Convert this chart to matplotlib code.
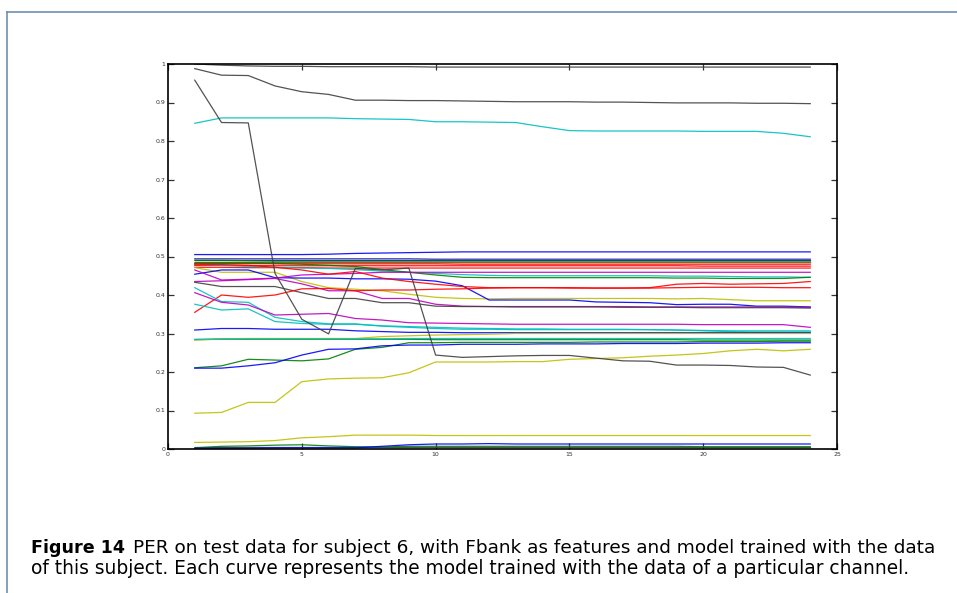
import matplotlib
matplotlib.use('Agg')
import matplotlib.pyplot as plt
from matplotlib.lines import Line2D

# ==================== data ====================
epochs = list(range(1, 25))

k_top = [1.000, 0.997, 0.995, 0.994, 0.994, 0.993, 0.993, 0.993, 0.993, 0.992, 0.992, 0.992,
         0.992, 0.992, 0.992, 0.992, 0.992, 0.992, 0.992, 0.992, 0.992, 0.992, 0.992, 0.992]
k_high = [0.988, 0.971, 0.970, 0.943, 0.928, 0.921, 0.906, 0.906, 0.905, 0.905, 0.904, 0.903,
          0.902, 0.902, 0.902, 0.901, 0.901, 0.900, 0.899, 0.899, 0.899, 0.898, 0.898, 0.897]
k_drop = [0.958, 0.848, 0.847, 0.456, 0.337, 0.299, 0.469, 0.465, 0.470, 0.244, 0.238, 0.240,
          0.242, 0.243, 0.243, 0.236, 0.229, 0.228, 0.218, 0.218, 0.217, 0.213, 0.212, 0.192]
c_high = [0.846, 0.860, 0.860, 0.860, 0.860, 0.860, 0.858, 0.857, 0.856, 0.850, 0.850, 0.849,
          0.848, 0.837, 0.827, 0.826, 0.826, 0.826, 0.826, 0.825, 0.825, 0.825, 0.820, 0.811]

b_top = [0.505, 0.505, 0.505, 0.505, 0.505, 0.506, 0.508, 0.509, 0.510, 0.511, 0.512, 0.512,
         0.512, 0.512, 0.512, 0.512, 0.512, 0.512, 0.512, 0.512, 0.512, 0.512, 0.512, 0.512]
b_flat1 = [0.494, 0.494, 0.494, 0.494, 0.494, 0.494, 0.494, 0.494, 0.494, 0.493, 0.493, 0.493,
           0.493, 0.493, 0.493, 0.493, 0.493, 0.493, 0.493, 0.493, 0.493, 0.493, 0.493, 0.493]
b_flat2 = [0.491, 0.491, 0.491, 0.491, 0.491, 0.491, 0.491, 0.491, 0.491, 0.491, 0.491, 0.491,
           0.491, 0.491, 0.491, 0.491, 0.491, 0.491, 0.491, 0.491, 0.491, 0.491, 0.491, 0.491]
g_flat = [0.490, 0.490, 0.489, 0.488, 0.488, 0.488, 0.488, 0.488, 0.488, 0.488, 0.488, 0.488,
          0.488, 0.488, 0.488, 0.488, 0.488, 0.488, 0.488, 0.488, 0.488, 0.488, 0.488, 0.488]
y_flat = [0.487, 0.487, 0.487, 0.487, 0.487, 0.487, 0.487, 0.487, 0.487, 0.487, 0.487, 0.487,
          0.487, 0.487, 0.487, 0.487, 0.487, 0.487, 0.487, 0.487, 0.487, 0.487, 0.487, 0.487]
k_flat = [0.485, 0.485, 0.485, 0.485, 0.485, 0.485, 0.485, 0.485, 0.485, 0.485, 0.485, 0.485,
          0.485, 0.485, 0.485, 0.485, 0.485, 0.485, 0.485, 0.485, 0.485, 0.485, 0.485, 0.485]
r_a = [0.482, 0.482, 0.482, 0.481, 0.481, 0.481, 0.481, 0.481, 0.481, 0.481, 0.480, 0.480,
       0.480, 0.480, 0.480, 0.480, 0.480, 0.480, 0.480, 0.480, 0.480, 0.480, 0.480, 0.480]
r_b = [0.477, 0.477, 0.477, 0.476, 0.476, 0.476, 0.476, 0.476, 0.476, 0.476, 0.476, 0.476,
       0.476, 0.476, 0.476, 0.476, 0.476, 0.476, 0.476, 0.475, 0.475, 0.475, 0.475, 0.475]
r_c = [0.472, 0.472, 0.471, 0.471, 0.471, 0.470, 0.470, 0.470, 0.470, 0.470, 0.470, 0.470,
       0.470, 0.470, 0.470, 0.470, 0.470, 0.470, 0.470, 0.470, 0.470, 0.470, 0.470, 0.470]
c_mid = [0.480, 0.477, 0.474, 0.472, 0.470, 0.469, 0.466, 0.462, 0.459, 0.456, 0.453, 0.451,
         0.450, 0.450, 0.450, 0.450, 0.450, 0.450, 0.449, 0.449, 0.448, 0.447, 0.447, 0.446]
g_mid = [0.483, 0.483, 0.483, 0.482, 0.480, 0.477, 0.474, 0.466, 0.459, 0.452, 0.446, 0.445,
         0.445, 0.445, 0.445, 0.445, 0.445, 0.445, 0.444, 0.444, 0.443, 0.443, 0.443, 0.446]
y_mid = [0.471, 0.459, 0.459, 0.459, 0.435, 0.419, 0.415, 0.411, 0.402, 0.394, 0.391, 0.390,
         0.391, 0.391, 0.391, 0.391, 0.391, 0.391, 0.390, 0.391, 0.388, 0.385, 0.385, 0.385]
b_mid = [0.454, 0.465, 0.465, 0.445, 0.444, 0.444, 0.442, 0.442, 0.441, 0.436, 0.424, 0.387,
         0.387, 0.387, 0.387, 0.382, 0.381, 0.380, 0.375, 0.376, 0.376, 0.371, 0.371, 0.369]
m_a = [0.465, 0.439, 0.441, 0.444, 0.452, 0.454, 0.456, 0.459, 0.459, 0.459, 0.459, 0.459,
       0.459, 0.459, 0.459, 0.459, 0.459, 0.459, 0.459, 0.459, 0.459, 0.459, 0.459, 0.459]
m_b = [0.435, 0.437, 0.440, 0.443, 0.429, 0.411, 0.411, 0.391, 0.391, 0.376, 0.371, 0.370,
       0.370, 0.370, 0.370, 0.370, 0.370, 0.369, 0.369, 0.369, 0.369, 0.369, 0.369, 0.368]
k_low = [0.433, 0.422, 0.422, 0.422, 0.406, 0.391, 0.391, 0.380, 0.380, 0.371, 0.370, 0.370,
         0.369, 0.369, 0.369, 0.369, 0.368, 0.368, 0.368, 0.367, 0.367, 0.367, 0.367, 0.366]
r_drop = [0.480, 0.479, 0.477, 0.472, 0.465, 0.454, 0.461, 0.444, 0.435, 0.428, 0.422, 0.419,
          0.419, 0.419, 0.419, 0.418, 0.418, 0.418, 0.419, 0.420, 0.420, 0.420, 0.419, 0.419]
r_rise = [0.355, 0.400, 0.394, 0.400, 0.416, 0.417, 0.411, 0.413, 0.413, 0.415, 0.416, 0.418,
          0.419, 0.419, 0.418, 0.418, 0.418, 0.419, 0.428, 0.430, 0.428, 0.429, 0.430, 0.435]
c_a = [0.419, 0.383, 0.381, 0.342, 0.331, 0.325, 0.325, 0.319, 0.316, 0.313, 0.311, 0.311,
       0.310, 0.310, 0.310, 0.310, 0.310, 0.310, 0.309, 0.308, 0.307, 0.307, 0.307, 0.307]
c_b = [0.376, 0.361, 0.364, 0.331, 0.326, 0.324, 0.324, 0.320, 0.318, 0.316, 0.314, 0.313,
       0.312, 0.312, 0.311, 0.311, 0.311, 0.310, 0.309, 0.307, 0.305, 0.304, 0.304, 0.304]
m_c = [0.406, 0.381, 0.374, 0.348, 0.350, 0.352, 0.339, 0.335, 0.328, 0.327, 0.326, 0.325,
       0.324, 0.324, 0.324, 0.324, 0.324, 0.324, 0.324, 0.323, 0.323, 0.323, 0.323, 0.316]
b_low = [0.309, 0.313, 0.313, 0.311, 0.311, 0.311, 0.307, 0.305, 0.303, 0.303, 0.302, 0.302,
         0.302, 0.302, 0.302, 0.302, 0.302, 0.302, 0.302, 0.302, 0.302, 0.302, 0.302, 0.302]
g_low = [0.284, 0.285, 0.285, 0.285, 0.285, 0.285, 0.285, 0.285, 0.285, 0.284, 0.284, 0.284,
         0.284, 0.284, 0.284, 0.284, 0.284, 0.284, 0.284, 0.283, 0.283, 0.283, 0.283, 0.283]
y_low = [0.283, 0.286, 0.287, 0.287, 0.287, 0.287, 0.287, 0.292, 0.294, 0.296, 0.297, 0.298,
         0.300, 0.300, 0.300, 0.300, 0.300, 0.300, 0.300, 0.300, 0.300, 0.300, 0.300, 0.300]
c_low = [0.285, 0.286, 0.286, 0.286, 0.286, 0.286, 0.286, 0.286, 0.287, 0.287, 0.287, 0.287,
         0.287, 0.287, 0.287, 0.287, 0.287, 0.287, 0.287, 0.287, 0.287, 0.287, 0.287, 0.287]
g_rise = [0.211, 0.216, 0.233, 0.231, 0.229, 0.234, 0.259, 0.264, 0.276, 0.276, 0.277, 0.277,
          0.277, 0.277, 0.277, 0.278, 0.278, 0.278, 0.278, 0.279, 0.279, 0.279, 0.280, 0.280]
b_rise = [0.210, 0.210, 0.216, 0.224, 0.244, 0.259, 0.260, 0.268, 0.270, 0.270, 0.272, 0.272,
          0.272, 0.273, 0.273, 0.273, 0.274, 0.274, 0.274, 0.275, 0.275, 0.275, 0.276, 0.276]
y_rise = [0.093, 0.095, 0.121, 0.121, 0.175, 0.182, 0.184, 0.185, 0.198, 0.226, 0.226, 0.226,
          0.227, 0.227, 0.233, 0.235, 0.237, 0.241, 0.244, 0.248, 0.255, 0.259, 0.255, 0.259]
y_floor = [0.017, 0.018, 0.019, 0.022, 0.029, 0.032, 0.036, 0.036, 0.036, 0.035, 0.035, 0.035,
           0.035, 0.035, 0.035, 0.035, 0.035, 0.035, 0.035, 0.035, 0.035, 0.035, 0.035, 0.035]
g_floor = [0.003, 0.007, 0.008, 0.010, 0.011, 0.008, 0.006, 0.005, 0.007, 0.007, 0.007, 0.007,
           0.007, 0.007, 0.007, 0.007, 0.007, 0.007, 0.007, 0.006, 0.006, 0.006, 0.006, 0.006]
b_floor = [0.002, 0.002, 0.002, 0.003, 0.003, 0.003, 0.003, 0.007, 0.011, 0.013, 0.013, 0.014,
           0.013, 0.013, 0.013, 0.013, 0.013, 0.013, 0.013, 0.013, 0.013, 0.013, 0.013, 0.013]
k_floor = [0.004, 0.004, 0.004, 0.004, 0.004, 0.004, 0.004, 0.004, 0.004, 0.004, 0.004, 0.004,
           0.004, 0.004, 0.004, 0.004, 0.004, 0.004, 0.004, 0.004, 0.004, 0.004, 0.004, 0.004]
m_floor = [0.001, 0.001, 0.001, 0.001, 0.001, 0.001, 0.001, 0.001, 0.001, 0.001, 0.001, 0.001,
           0.001, 0.001, 0.001, 0.001, 0.001, 0.001, 0.001, 0.001, 0.001, 0.001, 0.001, 0.001]

x_ticks = [0, 5, 10, 15, 20, 25]
y_ticks = [0, 0.1, 0.2, 0.3, 0.4, 0.5, 0.6, 0.7, 0.8, 0.9, 1]
y_tick_labels = ['0', '0.1', '0.2', '0.3', '0.4', '0.5', '0.6', '0.7', '0.8', '0.9', '1']

caption_bold = 'Figure 14'
caption_line1 = 'PER on test data for subject 6, with Fbank as features and model trained with the data'
caption_line2 = 'of this subject. Each curve represents the model trained with the data of a particular channel.'

# MATLAB-style colours
B, G, R, C, M, Y, K = '#0000ff', '#008000', '#ff0000', '#00bfbf', '#bf00bf', '#bfbf00', '#404040'

curves = [
    (k_top, K), (k_high, K), (c_high, C),
    (b_top, B), (b_flat1, '#2020a0'), (b_flat2, B), (g_flat, G), (y_flat, Y), (k_flat, '#806020'),
    (r_a, R), (r_b, R), (r_c, R), (c_mid, C), (g_mid, G), (y_mid, Y), (b_mid, B),
    (m_a, M), (m_b, M), (k_low, K), (r_drop, R), (r_rise, R),
    (c_a, C), (c_b, C), (m_c, M), (b_low, B), (g_low, G), (y_low, Y), (c_low, C),
    (g_rise, G), (b_rise, B), (y_rise, Y), (k_drop, K),
    (y_floor, Y), (k_floor, K), (g_floor, G), (b_floor, B), (m_floor, M),
]

# ==================== figure ====================
W, H = 957, 593
fig = plt.figure(figsize=(W / 100, H / 100), dpi=100)
fig.patch.set_facecolor('white')

# page frame (open at right and bottom)
fig.add_artist(Line2D([7.5 / W, 7.5 / W], [0, 1 - 12 / H], color='#7090b0', lw=1.2))
fig.add_artist(Line2D([7.5 / W, 1], [1 - 12 / H, 1 - 12 / H], color='#7090b0', lw=1.2))

ax = fig.add_axes([168 / W, 1 - 449 / H, (837 - 168) / W, (449 - 64) / H])
for vals, col in curves:
    ax.plot(epochs, vals, color=col, lw=0.9, alpha=0.9)

ax.set_xlim(0, 25)
ax.set_ylim(0, 1)
ax.set_xticks(x_ticks)
ax.set_xticklabels([str(t) for t in x_ticks])
ax.set_yticks(y_ticks)
ax.set_yticklabels(y_tick_labels)
ax.tick_params(direction='in', length=4, width=0.9, labelsize=4.5, colors='#333333',
               top=True, right=True, pad=2)
for sp in ax.spines.values():
    sp.set_linewidth(1.2)
    sp.set_color('black')

# caption: bold label followed by normal text
t_bold = fig.text(31 / W, 1 - 553 / H, caption_bold, fontsize=12.6, fontweight='bold',
                  family='DejaVu Sans', va='baseline')
fig.canvas.draw()
bb = t_bold.get_window_extent(renderer=fig.canvas.get_renderer())
fig.text((bb.x1 + 8) / W, 1 - 553 / H, caption_line1, fontsize=13.3,
         family='DejaVu Sans', va='baseline')
fig.text(31 / W, 1 - 574 / H, caption_line2, fontsize=13.4, family='DejaVu Sans', va='baseline')

fig.savefig('out.png', dpi=100)
